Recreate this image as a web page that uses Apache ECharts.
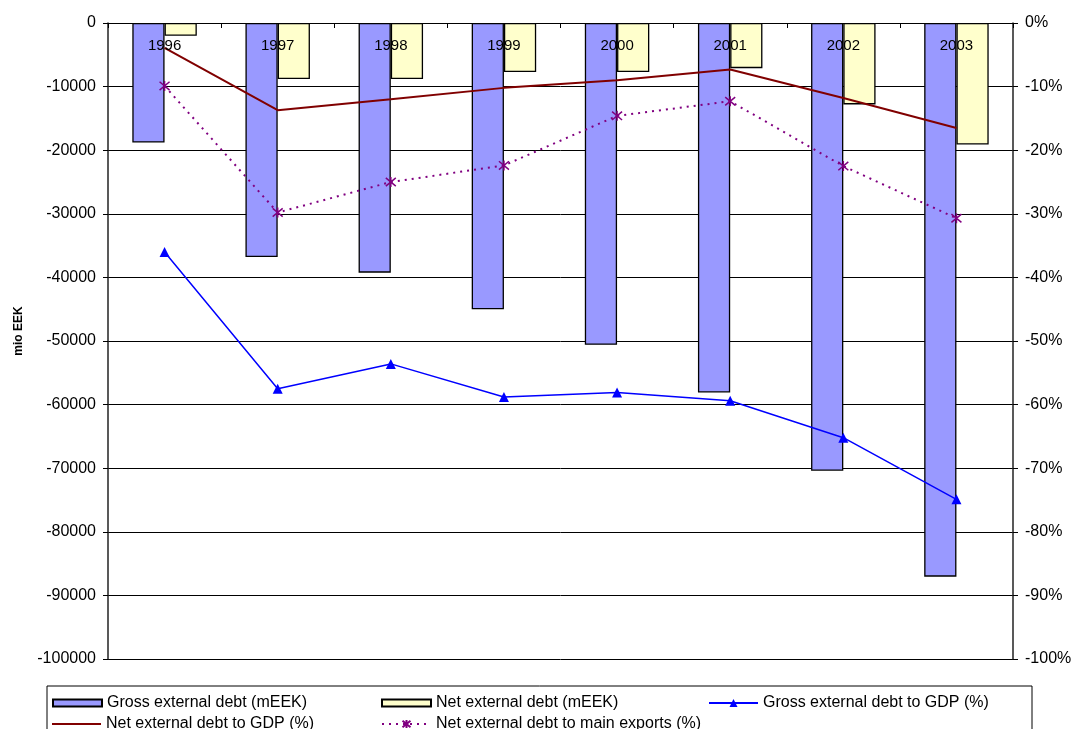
<!DOCTYPE html>
<html>
<head>
<meta charset="utf-8">
<title>External debt</title>
<script src="https://cdn.jsdelivr.net/npm/echarts@6/dist/echarts.min.js"></script>
<style>
  html, body { margin: 0; padding: 0; background: #fff; }
  #chart { width: 1072px; height: 729px; }
</style>
</head>
<body>
<div id="chart"></div>
<script>
// Years on the category axis
const years = ['1996', '1997', '1998', '1999', '2000', '2001', '2002', '2003'];

// Debt stocks, mio EEK (left axis)
const grossDebt = [-18800, -36800, -39250, -45000, -50600, -58100, -70400, -87050];
const netDebt = [-2000, -8800, -8800, -7700, -7700, -7100, -12800, -19100];

// Ratios, % (right axis)
const grossToGdp = [-36.0, -57.5, -53.6, -58.8, -58.1, -59.4, -65.2, -74.9];
const netToGdp = [-3.9, -13.7, -12.0, -10.2, -9.0, -7.3, -11.8, -16.5];
const netToExports = [-9.9, -29.8, -25.0, -22.4, -14.6, -12.3, -22.5, -30.7];

// Left and right tick values
const leftTicks = [0, -10000, -20000, -30000, -40000, -50000, -60000, -70000, -80000, -90000, -100000];
const rightTicks = [0, -10, -20, -30, -40, -50, -60, -70, -80, -90, -100];

// Series names, also used as legend entries
const NAMES = {
  gross: 'Gross external debt (mEEK)',
  net: 'Net external debt (mEEK)',
  grossGdp: 'Gross external debt to GDP (%)',
  netGdp: 'Net external debt to GDP (%)',
  netExp: 'Net external debt to main exports (%)'
};

const FONT = "'Liberation Sans', Arial, sans-serif";
const ASTERISK = 'path://M0,0L10,10M10,0L0,10M5,-1L5,11';

const chart = echarts.init(document.getElementById('chart'), null, { renderer: 'canvas' });

const legendText = { fontFamily: FONT, fontSize: 16, color: '#000' };

// One legend per entry so the entries sit in fixed columns
function legendAt(name, left, top, extra) {
  return Object.assign({
    left: left, top: top, itemWidth: 49, itemHeight: 10, padding: 0,
    textStyle: legendText, selectedMode: false, data: [name]
  }, extra || {});
}

chart.setOption({
  animation: false,
  backgroundColor: '#fff',
  textStyle: { fontFamily: FONT },
  grid: { left: 108, right: 59, top: 23, bottom: 70, containLabel: false, outerBoundsMode: 'none' },
  xAxis: {
    type: 'category',
    data: years,
    position: 'top',
    z: 10,
    axisLine: { show: true, onZero: false, lineStyle: { color: '#000', width: 1 } },
    axisTick: { show: true, inside: true, length: 5, lineStyle: { color: '#000' } },
    axisLabel: { inside: true, margin: 15, color: '#000', fontSize: 15, fontFamily: FONT },
    splitLine: { show: false }
  },
  yAxis: [
    {
      type: 'value',
      min: leftTicks[leftTicks.length - 1],
      max: leftTicks[0],
      interval: 10000,
      axisLine: { show: true, lineStyle: { color: '#222', width: 1.5 } },
      axisTick: { show: true, length: 5, lineStyle: { color: '#000' } },
      axisLabel: { margin: 12, color: '#000', fontSize: 16, fontFamily: FONT, formatter: v => String(v) },
      splitLine: { show: true, lineStyle: { color: '#000', width: 1 } }
    },
    {
      type: 'value',
      min: rightTicks[rightTicks.length - 1],
      max: rightTicks[0],
      interval: 10,
      position: 'right',
      axisLine: { show: true, lineStyle: { color: '#222', width: 1.5 } },
      axisTick: { show: true, length: 5, lineStyle: { color: '#000' } },
      axisLabel: { margin: 12, color: '#000', fontSize: 16, fontFamily: FONT, formatter: v => v + '%' },
      splitLine: { show: false }
    }
  ],
  legend: [
    legendAt(NAMES.gross, 52, 695, { data: [{ name: NAMES.gross, icon: 'rect' }], itemHeight: 7 }),
    legendAt(NAMES.net, 381, 695, { data: [{ name: NAMES.net, icon: 'rect' }], itemHeight: 7 }),
    legendAt(NAMES.grossGdp, 708, 695),
    legendAt(NAMES.netGdp, 52, 716, { data: [{ name: NAMES.netGdp, icon: 'rect' }], itemHeight: 2 }),
    legendAt(NAMES.netExp, 381, 716)
  ],
  graphic: [
    {
      type: 'rect',
      shape: { x: 47, y: 686, width: 985, height: 60 },
      style: { fill: 'none', stroke: '#000', lineWidth: 1 },
      silent: true
    },
    {
      // left axis title, read bottom to top
      type: 'text',
      x: 19,
      y: 331,
      rotation: Math.PI / 2,
      style: {
        text: 'mio EEK',
        font: "bold 12px 'Liberation Sans', Arial, sans-serif",
        fill: '#000',
        align: 'center',
        verticalAlign: 'middle'
      },
      silent: true
    }
  ],
  series: [
    {
      name: NAMES.gross,
      type: 'bar',
      yAxisIndex: 0,
      data: grossDebt,
      barGap: '0%',
      barCategoryGap: '43%',
      itemStyle: { color: '#9999FF', borderColor: '#000', borderWidth: 1.3 }
    },
    {
      name: NAMES.net,
      type: 'bar',
      yAxisIndex: 0,
      data: netDebt,
      barGap: '0%',
      barCategoryGap: '43%',
      itemStyle: { color: '#FFFFCC', borderColor: '#000', borderWidth: 1.3 }
    },
    {
      name: NAMES.grossGdp,
      type: 'line',
      yAxisIndex: 1,
      data: grossToGdp,
      symbol: 'triangle',
      symbolSize: 10,
      z: 5,
      itemStyle: { color: '#0000FF' },
      lineStyle: { color: '#0000FF', width: 1.5 }
    },
    {
      name: NAMES.netGdp,
      type: 'line',
      yAxisIndex: 1,
      data: netToGdp,
      symbol: 'none',
      z: 5,
      itemStyle: { color: '#800000' },
      lineStyle: { color: '#800000', width: 2 }
    },
    {
      name: NAMES.netExp,
      type: 'line',
      yAxisIndex: 1,
      data: netToExports,
      symbol: ASTERISK,
      symbolSize: 10,
      z: 5,
      itemStyle: { color: '#800080', borderColor: '#800080', borderWidth: 1.5 },
      lineStyle: { color: '#800080', width: 2, type: [2, 5] }
    }
  ]
});
</script>
</body>
</html>
